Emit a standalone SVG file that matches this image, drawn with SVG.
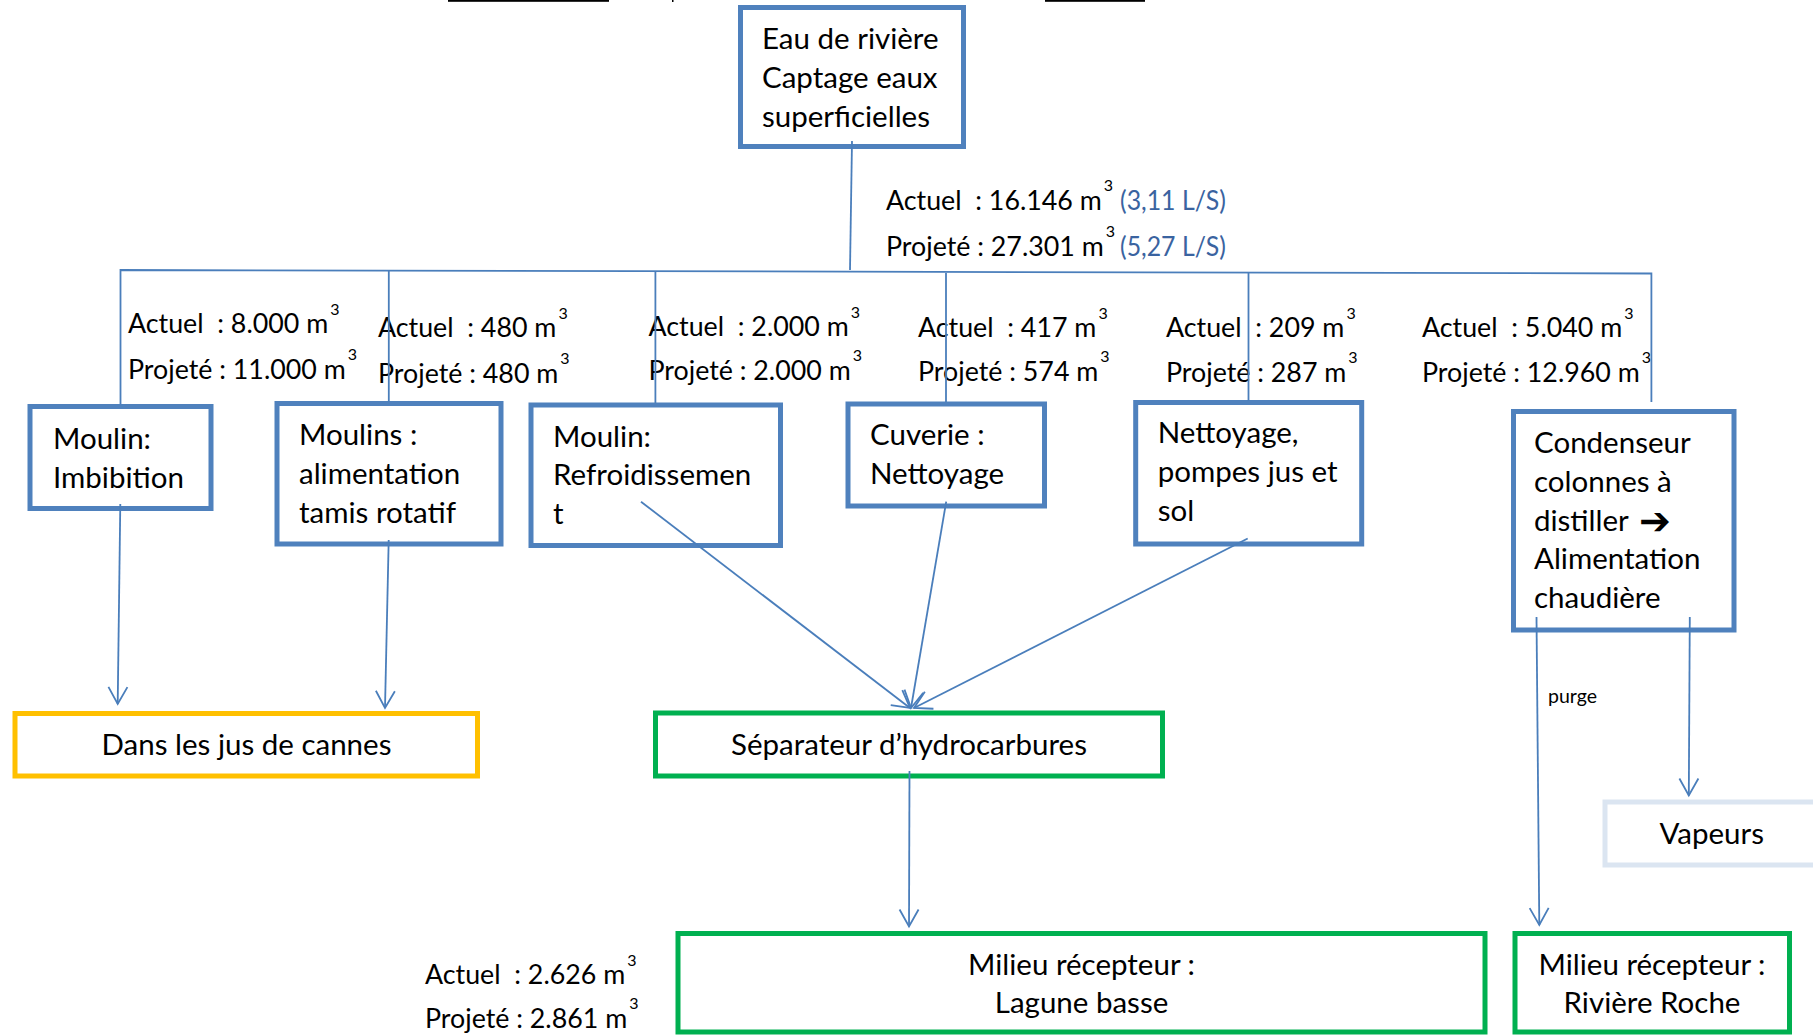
<svg xmlns="http://www.w3.org/2000/svg" width="1813" height="1035" viewBox="0 0 1813 1035">
<style>
  .box{fill:#fff;stroke:#4F81BD;stroke-width:5}
  .ybox{fill:#fff;stroke:#FFC000;stroke-width:5}
  .gbox{fill:#fff;stroke:#00B050;stroke-width:5}
  .lbox{fill:#fff;stroke:#DBE5F1;stroke-width:5}
  .t{font-family:Lato,"Liberation Sans",sans-serif;font-size:29.5px;fill:#000}
  .c{text-anchor:middle}
  .lab{font-family:Lato,"Liberation Sans",sans-serif;font-size:26.8px;fill:#000;white-space:pre}
  .sup{font-size:16px}
  .blue{font-family:Lato,"Liberation Sans",sans-serif;fill:#3A63A0;font-size:26.8px}
  .small{font-family:Lato,"Liberation Sans",sans-serif;font-size:19.5px;fill:#000}
  .ln{fill:none;stroke:#4A7EBB;stroke-width:1.8}
  .ar{fill:none;stroke:#4A7EBB;stroke-width:1.8;marker-end:url(#arr)}
</style>
<defs>
  <marker id="arr" markerUnits="userSpaceOnUse" markerWidth="24" markerHeight="24" viewBox="-20 -12 24 24" refX="0" refY="0" orient="auto" overflow="visible">
    <path d="M-17,-9.5 L0,0 L-17,9.5" fill="none" stroke="#4A7EBB" stroke-width="1.8"/>
  </marker>
</defs>
<rect width="1813" height="1035" fill="#fff"/>

<!-- cut-off underlines at the very top -->
<g id="top-fragments" fill="#000">
  <rect x="448" y="0" width="161" height="1.8"/>
  <rect x="672" y="0" width="1.5" height="2"/>
  <rect x="1045" y="0" width="100" height="1.8"/>
</g>

<g id="flow-labels">
  <text class="lab" x="886" y="210" xml:space="preserve">Actuel  : 16.146 m<tspan class="sup" dx="2" dy="-19">3</tspan></text>
  <text class="blue" x="1120" y="210" textLength="106" lengthAdjust="spacingAndGlyphs">(3,11 L/S)</text>
  <text class="lab" x="886" y="255.5" xml:space="preserve">Projeté : 27.301 m<tspan class="sup" dx="2" dy="-19">3</tspan></text>
  <text class="blue" x="1120" y="255.5" textLength="106" lengthAdjust="spacingAndGlyphs">(5,27 L/S)</text>

  <text class="lab" x="128" y="333.3" xml:space="preserve">Actuel  : 8.000 m<tspan class="sup" dx="2" dy="-18">3</tspan></text>
  <text class="lab" x="128" y="379.3" xml:space="preserve">Projeté : 11.000 m<tspan class="sup" dx="2" dy="-19">3</tspan></text>

  <text class="lab" x="378" y="337.3" xml:space="preserve">Actuel  : 480 m<tspan class="sup" dx="2" dy="-18">3</tspan></text>
  <text class="lab" x="378" y="383.3" xml:space="preserve">Projeté : 480 m<tspan class="sup" dx="2" dy="-19">3</tspan></text>

  <text class="lab" x="648.5" y="336" xml:space="preserve">Actuel  : 2.000 m<tspan class="sup" dx="2" dy="-18">3</tspan></text>
  <text class="lab" x="648.5" y="380" xml:space="preserve">Projeté : 2.000 m<tspan class="sup" dx="2" dy="-19">3</tspan></text>

  <text class="lab" x="918" y="337.3" xml:space="preserve">Actuel  : 417 m<tspan class="sup" dx="2" dy="-18">3</tspan></text>
  <text class="lab" x="918" y="380.7" xml:space="preserve">Projeté : 574 m<tspan class="sup" dx="2" dy="-19">3</tspan></text>

  <text class="lab" x="1166" y="337.3" xml:space="preserve">Actuel  : 209 m<tspan class="sup" dx="2" dy="-18">3</tspan></text>
  <text class="lab" x="1166" y="381.7" xml:space="preserve">Projeté : 287 m<tspan class="sup" dx="2" dy="-19">3</tspan></text>

  <text class="lab" x="1422" y="337.3" xml:space="preserve">Actuel  : 5.040 m<tspan class="sup" dx="2" dy="-18">3</tspan></text>
  <text class="lab" x="1422" y="381.7" xml:space="preserve">Projeté : 12.960 m<tspan class="sup" dx="2" dy="-19">3</tspan></text>

  <text class="lab" x="425" y="984" xml:space="preserve">Actuel  : 2.626 m<tspan class="sup" dx="2" dy="-18">3</tspan></text>
  <text class="lab" x="425" y="1028.3" xml:space="preserve">Projeté : 2.861 m<tspan class="sup" dx="2" dy="-19">3</tspan></text>
</g>

<g id="node-source">
  <rect class="box" x="740.5" y="7.5" width="223" height="139"/>
  <text class="t" x="762" y="49">Eau de rivière</text>
  <text class="t" x="762" y="88">Captage eaux</text>
  <text class="t" x="762" y="126.5">superficielles</text>
</g>

<g id="node-imbibition">
  <rect class="box" x="30" y="406.5" width="181" height="102"/>
  <text class="t" x="53" y="449">Moulin:</text>
  <text class="t" x="53" y="487.5">Imbibition</text>
</g>

<g id="node-tamis">
  <rect class="box" x="277" y="403.5" width="224" height="140.5"/>
  <text class="t" x="299" y="445">Moulins :</text>
  <text class="t" x="299" y="484">alimentation</text>
  <text class="t" x="299" y="522.7">tamis rotatif</text>
</g>

<g id="node-refroidissement">
  <rect class="box" x="531" y="405" width="249.5" height="140.5"/>
  <text class="t" x="553" y="446.7">Moulin:</text>
  <text class="t" x="553" y="485.3">Refroidissemen</text>
  <text class="t" x="553" y="524">t</text>
</g>

<g id="node-cuverie">
  <rect class="box" x="848" y="404" width="196.5" height="102"/>
  <text class="t" x="870" y="445">Cuverie :</text>
  <text class="t" x="870" y="484">Nettoyage</text>
</g>

<g id="node-nettoyage">
  <rect class="box" x="1135.7" y="402.5" width="226" height="141.5"/>
  <text class="t" x="1157.7" y="443.3">Nettoyage,</text>
  <text class="t" x="1157.7" y="482">pompes jus et</text>
  <text class="t" x="1157.7" y="521">sol</text>
</g>

<g id="node-condenseur">
  <rect class="box" x="1513.5" y="411.5" width="220.5" height="218.5"/>
  <text class="t" x="1534" y="453.3">Condenseur</text>
  <text class="t" x="1534" y="492">colonnes à</text>
  <text class="t" x="1534" y="530.5">distiller <tspan x="1639" y="534" font-family="'DejaVu Sans',sans-serif" font-size="38" font-weight="bold">➔</tspan></text>
  <text class="t" x="1534" y="569">Alimentation</text>
  <text class="t" x="1534" y="608">chaudière</text>
</g>

<g id="node-jus">
  <rect class="ybox" x="15" y="713.5" width="462.5" height="62.5"/>
  <text class="t c" x="246.5" y="755">Dans les jus de cannes</text>
</g>

<g id="node-separateur">
  <rect class="gbox" x="655.5" y="713" width="507" height="63"/>
  <text class="t c" x="909" y="755">Séparateur d’hydrocarbures</text>
</g>

<g id="node-lagune">
  <rect class="gbox" x="678" y="933.5" width="807" height="98.5"/>
  <text class="t c" x="1081.5" y="975">Milieu récepteur :</text>
  <text class="t c" x="1081.5" y="1013">Lagune basse</text>
</g>

<g id="node-vapeurs">
  <rect class="lbox" x="1605" y="802" width="230" height="63"/>
  <text class="t c" x="1711.7" y="843.5">Vapeurs</text>
</g>

<g id="node-roche">
  <rect class="gbox" x="1515" y="933.5" width="274.5" height="98.5"/>
  <text class="t c" x="1652" y="975">Milieu récepteur :</text>
  <text class="t c" x="1652" y="1013">Rivière Roche</text>
</g>

<g id="connectors">
  <path class="ln" d="M852,141 L850,270"/>
  <path class="ln" d="M120.5,404 L120.5,270 L1651.4,273.5 L1651.4,402"/>
  <path class="ln" d="M388.8,271 L388.8,402"/>
  <path class="ln" d="M655.4,272 L655.4,403"/>
  <path class="ln" d="M946,273 L946,402"/>
  <path class="ln" d="M1248.5,273 L1248.5,401"/>
  <path class="ar" d="M120.3,504 L117.7,704"/>
  <path class="ar" d="M388.7,540 L385,708"/>
  <path class="ar" d="M641,501.7 L910,708"/>
  <path class="ar" d="M946.2,501.7 L911,708"/>
  <path class="ar" d="M1247.7,538.5 L914,708"/>
  <path class="ar" d="M909.5,771 L909,926.5"/>
  <path class="ar" d="M1536.5,617 L1539.3,925"/>
  <path class="ar" d="M1689.8,617 L1688.8,795.5"/>
  <text class="small" x="1548" y="703">purge</text>
</g>
</svg>
